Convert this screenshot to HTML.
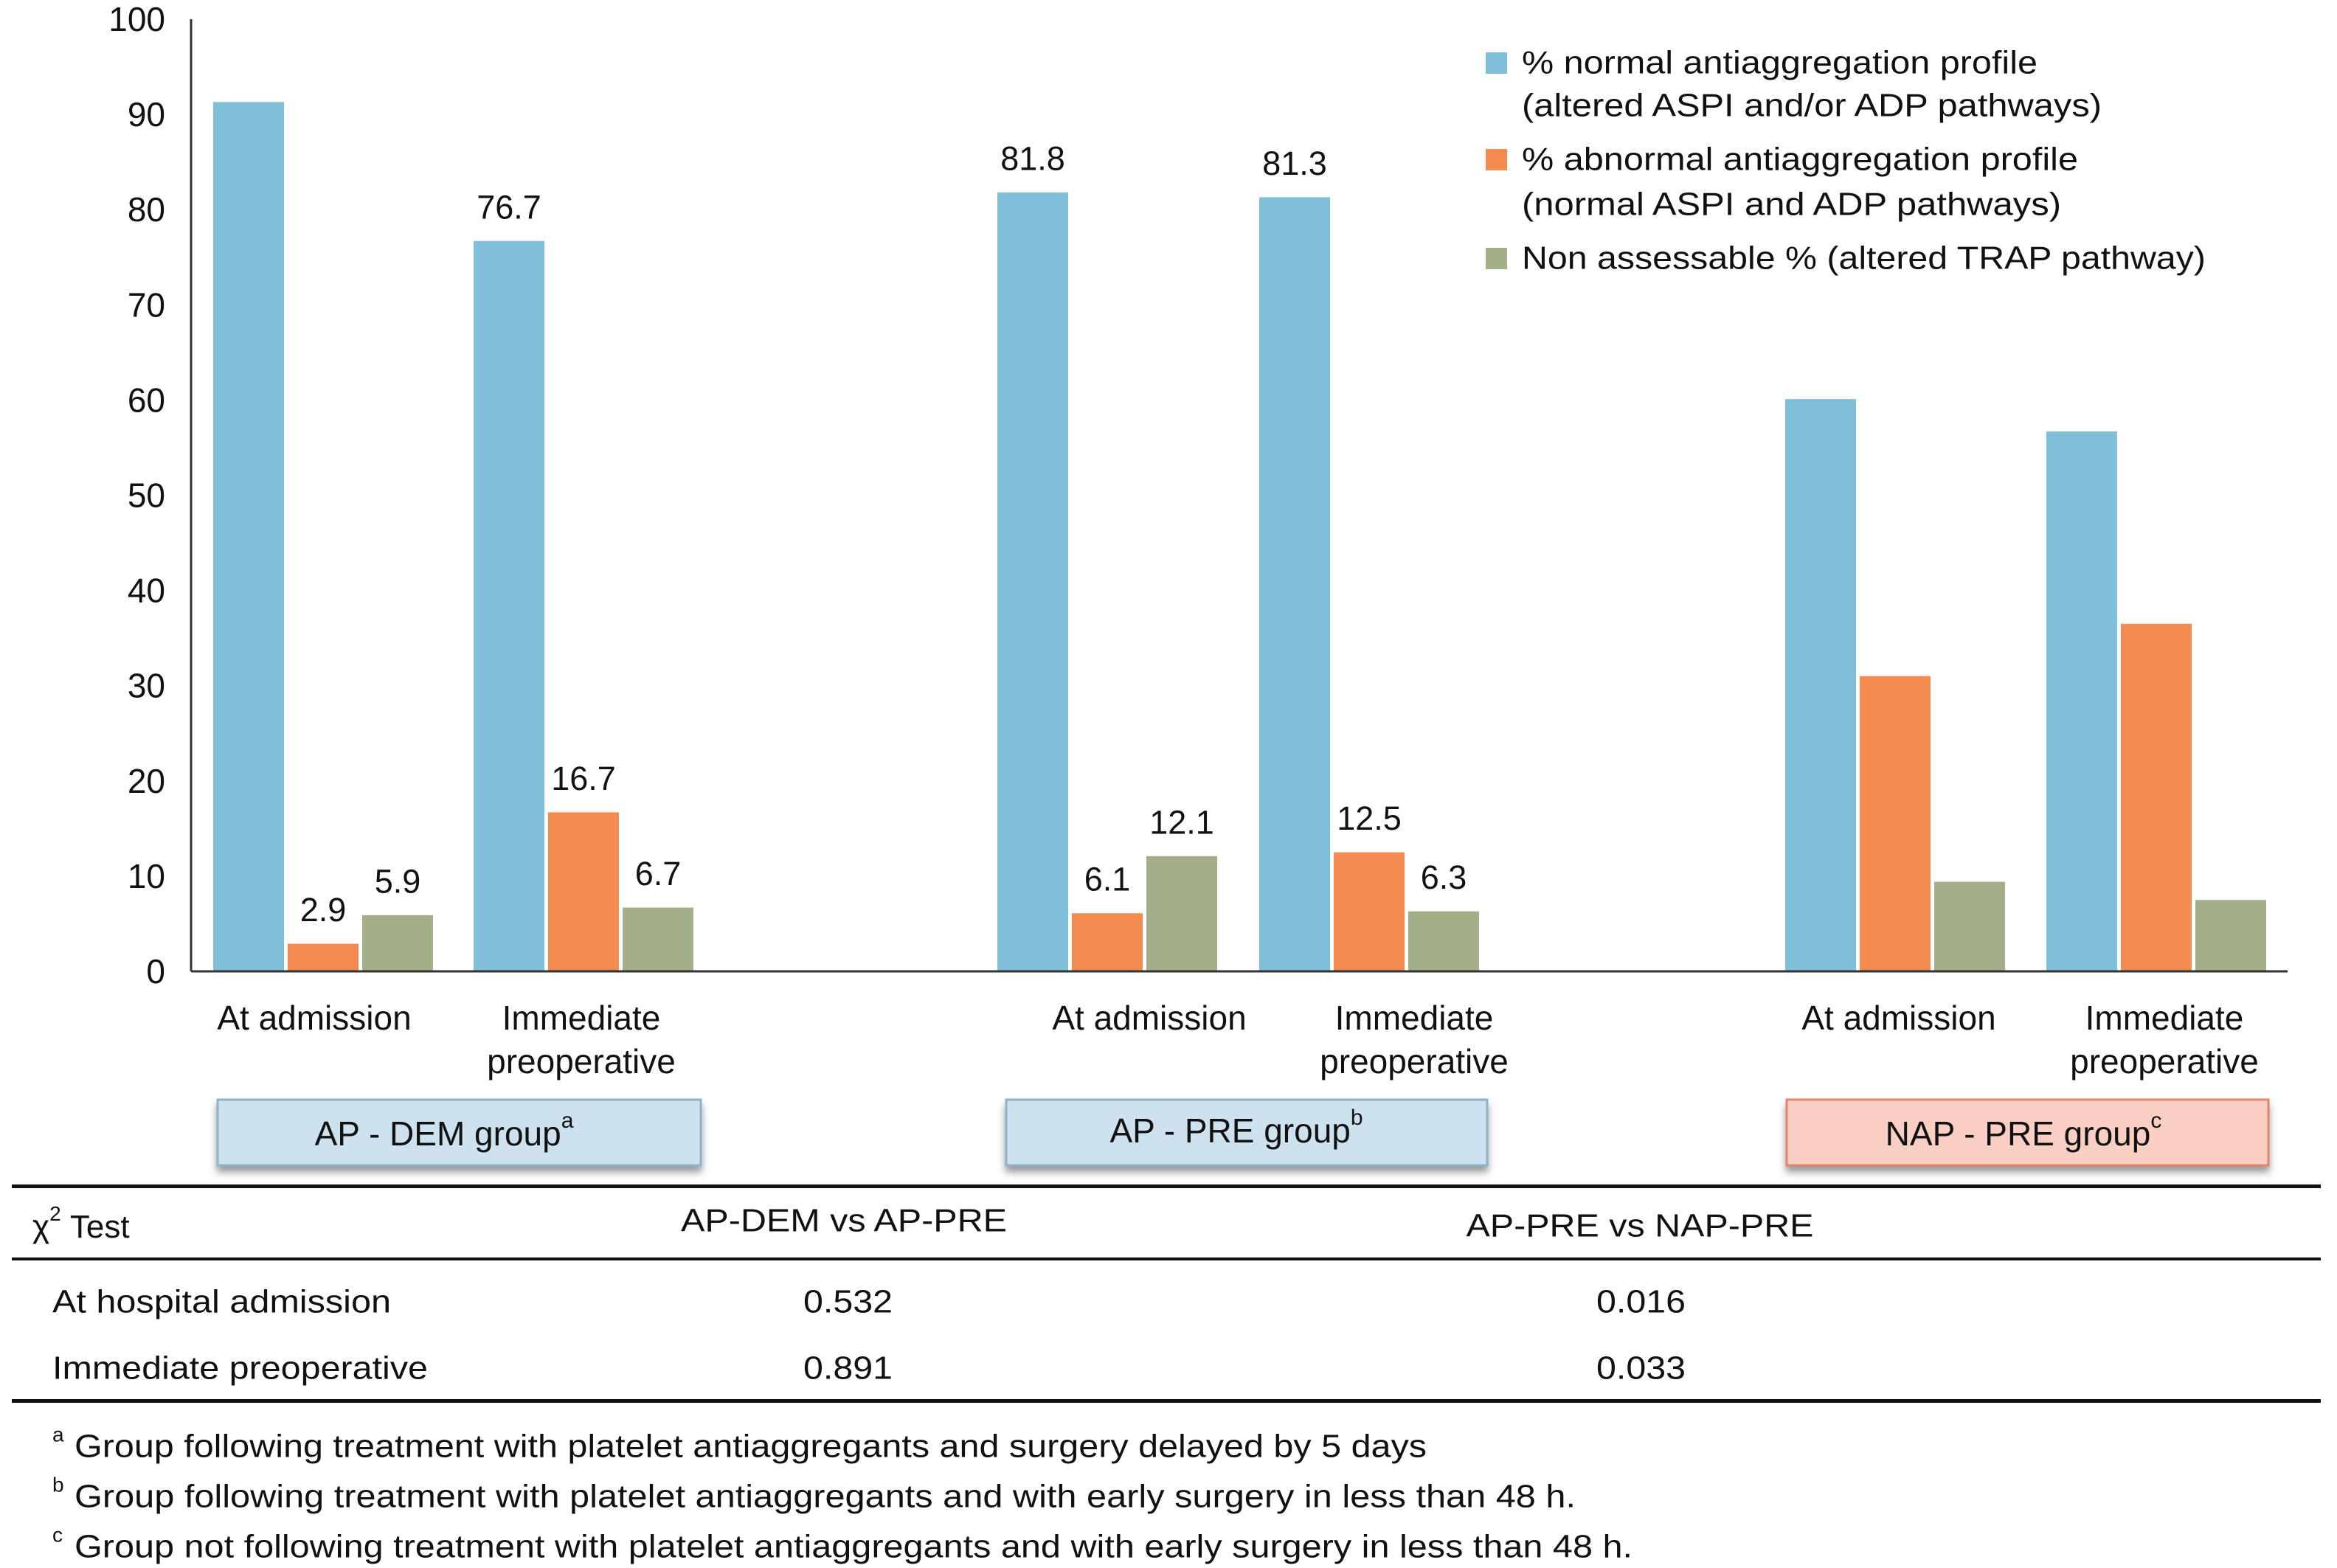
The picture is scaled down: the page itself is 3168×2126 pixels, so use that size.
<!DOCTYPE html>
<html><head><meta charset="utf-8"><style>
html,body{margin:0;padding:0;background:#fff}
svg{display:block}
text{font-family:"Liberation Sans",Arial,sans-serif;fill:#111}
</style></head><body>
<svg id="chart" width="3168" height="2126" viewBox="0 0 3168 2126" xmlns="http://www.w3.org/2000/svg">
<defs>
<filter id="sh" x="-5%" y="-20%" width="110%" height="160%"><feDropShadow dx="0" dy="8" stdDeviation="5" flood-color="#555" flood-opacity="0.6"/></filter>
</defs>
<g id="bars"></g>
<g id="yaxis"></g>
<g id="labels"></g>
<g id="cats"></g>

<g font-size="44">
<rect x="2014" y="71" width="29" height="29" fill="#7fbfd9"/>
<text x="2063" y="85" dominant-baseline="central" textLength="699" lengthAdjust="spacingAndGlyphs">% normal antiaggregation profile</text>
<text x="2063" y="143" dominant-baseline="central" textLength="786" lengthAdjust="spacingAndGlyphs">(altered ASPI and/or ADP pathways)</text>
<rect x="2014" y="202" width="29" height="29" fill="#f38a4f"/>
<text x="2063" y="216" dominant-baseline="central" textLength="754" lengthAdjust="spacingAndGlyphs">% abnormal antiaggregation profile</text>
<text x="2063" y="277" dominant-baseline="central" textLength="731" lengthAdjust="spacingAndGlyphs">(normal ASPI and ADP pathways)</text>
<rect x="2014" y="336" width="29" height="29" fill="#a3af89"/>
<text x="2063" y="350" dominant-baseline="central" textLength="927" lengthAdjust="spacingAndGlyphs">Non assessable % (altered TRAP pathway)</text>
</g>

<g font-size="46">
<rect x="295" y="1491" width="655" height="89" fill="#cde1ee" stroke="#8db3cb" stroke-width="3" filter="url(#sh)"/>
<text x="602" y="1537" text-anchor="middle" dominant-baseline="central">AP - DEM group<tspan font-size="30" dy="-18">a</tspan></text>
<rect x="1364" y="1491" width="652" height="89" fill="#cde1ee" stroke="#8db3cb" stroke-width="3" filter="url(#sh)"/>
<text x="1676" y="1533" text-anchor="middle" dominant-baseline="central">AP - PRE group<tspan font-size="30" dy="-18">b</tspan></text>
<rect x="2422" y="1491" width="653" height="89" fill="#f9cfc3" stroke="#e6846a" stroke-width="3" filter="url(#sh)"/>
<text x="2743" y="1537" text-anchor="middle" dominant-baseline="central">NAP - PRE group<tspan font-size="30" dy="-18">c</tspan></text>
</g>

<g font-size="44">
<rect x="16" y="1606" width="3130" height="5" fill="#111"/>
<rect x="16" y="1705" width="3130" height="4" fill="#111"/>
<rect x="16" y="1897" width="3130" height="5" fill="#111"/>
<text x="44" y="1663" dominant-baseline="central">χ<tspan font-size="28" dy="-18">2</tspan><tspan dy="18"> Test</tspan></text>
<text x="1144" y="1655" text-anchor="middle" dominant-baseline="central" textLength="442" lengthAdjust="spacingAndGlyphs">AP-DEM vs AP-PRE</text>
<text x="2223" y="1662" text-anchor="middle" dominant-baseline="central" textLength="471" lengthAdjust="spacingAndGlyphs">AP-PRE vs NAP-PRE</text>
<text x="71" y="1765" dominant-baseline="central" textLength="459" lengthAdjust="spacingAndGlyphs">At hospital admission</text>
<text x="1089" y="1765" dominant-baseline="central" textLength="121" lengthAdjust="spacingAndGlyphs">0.532</text>
<text x="2164" y="1765" dominant-baseline="central" textLength="121" lengthAdjust="spacingAndGlyphs">0.016</text>
<text x="71" y="1855" dominant-baseline="central" textLength="509" lengthAdjust="spacingAndGlyphs">Immediate preoperative</text>
<text x="1089" y="1855" dominant-baseline="central" textLength="121" lengthAdjust="spacingAndGlyphs">0.891</text>
<text x="2164" y="1855" dominant-baseline="central" textLength="121" lengthAdjust="spacingAndGlyphs">0.033</text>
</g>

<g font-size="44">
<text x="71" y="1945" font-size="28" dominant-baseline="central">a</text>
<text x="101" y="1961" dominant-baseline="central" textLength="1833" lengthAdjust="spacingAndGlyphs">Group following treatment with platelet antiaggregants and surgery delayed by 5 days</text>
<text x="71" y="2013" font-size="28" dominant-baseline="central">b</text>
<text x="101" y="2029" dominant-baseline="central" textLength="2035" lengthAdjust="spacingAndGlyphs">Group following treatment with platelet antiaggregants and with early surgery in less than 48 h.</text>
<text x="71" y="2081" font-size="28" dominant-baseline="central">c</text>
<text x="101" y="2097" dominant-baseline="central" textLength="2112" lengthAdjust="spacingAndGlyphs">Group not following treatment with platelet antiaggregants and with early surgery in less than 48 h.</text>
</g>
</svg>
<script>
const categories = ["At admission","Immediate preoperative","At admission","Immediate preoperative","At admission","Immediate preoperative"];
const normalValues = [91.3, 76.7, 81.8, 81.3, 60.1, 56.7];
const abnormalValues = [2.9, 16.7, 6.1, 12.5, 31.0, 36.5];
const nonAssessValues = [5.9, 6.7, 12.1, 6.3, 9.4, 7.5];
const normalLabels = [null, "76.7", "81.8", "81.3", null, null];
const abnormalLabels = ["2.9", "16.7", "6.1", "12.5", null, null];
const nonAssessLabels = ["5.9", "6.7", "12.1", "6.3", null, null];
const yTicks = [0,10,20,30,40,50,60,70,80,90,100];

const NS = "http://www.w3.org/2000/svg";
const y0 = 1317, y100 = 26;
function yScale(v){ return y0 - (y0 - y100) * v / 100; }
const catStart = [289, 642, 1352, 1707, 2420, 2774];
const catLabelX = [426, 788, 1558, 1917, 2574, 2934];
function xScale(i, s){ return catStart[i] + s * 101; }
const barW = 96;
function mk(tag, attrs, parent){ const e = document.createElementNS(NS, tag); for (const k in attrs) e.setAttribute(k, attrs[k]); parent.appendChild(e); return e; }

const yaxis = document.getElementById('yaxis');
const ax = mk('line', {x1:259, y1:26, x2:259, y2:y0, stroke:'#333', 'stroke-width':3}, yaxis);


const bl = mk('line', {x1:259, y1:y0, x2:3101, y2:y0, stroke:'#333', 'stroke-width':3}, yaxis);


yTicks.forEach(t => {
  const tx = mk('text', {x:224, y:yScale(t), 'text-anchor':'end', 'dominant-baseline':'central', 'font-size':46}, yaxis);
  tx.textContent = t;
  
  
});

const bars = document.getElementById('bars');
const labels = document.getElementById('labels');
const series = [
  {vals: normalValues, labs: normalLabels, color: '#7fbfd9', name: 'bar-normal'},
  {vals: abnormalValues, labs: abnormalLabels, color: '#f38a4f', name: 'bar-abnormal'},
  {vals: nonAssessValues, labs: nonAssessLabels, color: '#a3af89', name: 'bar-nonassessable'}
];
series.forEach((s, si) => {
  s.vals.forEach((v, i) => {
    const x = xScale(i, si), y = yScale(v);
    const r = mk('rect', {x:x, y:y, width:barW, height:y0 - y, fill:s.color}, bars);
    
    
    if (s.labs[i] !== null) {
      const t = mk('text', {x:x + barW/2, y:y - 46, 'text-anchor':'middle', 'dominant-baseline':'central', 'font-size':45}, labels);
      t.textContent = s.labs[i];
      
      
    }
  });
});

const cats = document.getElementById('cats');
categories.forEach((c, i) => {
  const cx = catLabelX[i];
  const words = c === "Immediate preoperative" ? ["Immediate","preoperative"] : [c];
  words.forEach((w, wi) => {
    const t = mk('text', {x:cx, y:1380 + wi * 59, 'text-anchor':'middle', 'dominant-baseline':'central', 'font-size':46}, cats);
    t.textContent = w;
    
    
  });
});
</script>
</body></html>
